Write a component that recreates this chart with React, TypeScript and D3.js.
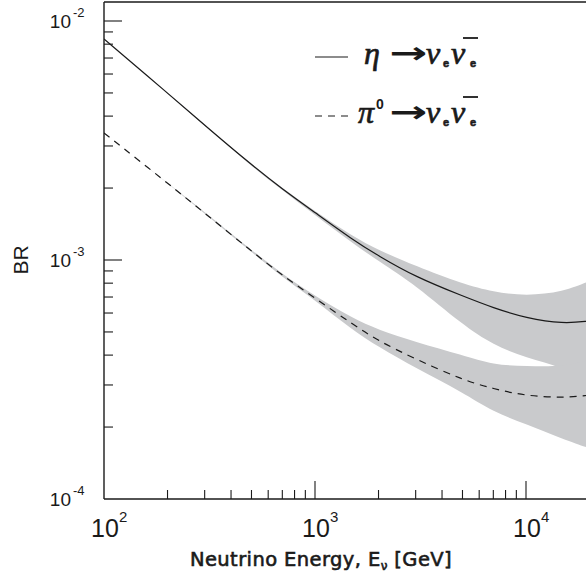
import React, { useEffect, useRef } from 'react';
import * as d3 from 'd3';

// ---------------- data ----------------
const energies = [100, 200, 300, 500, 700, 1000, 1500, 2000, 3000, 5000, 7000, 10000, 15000, 20000];

// eta -> nu_e nubar_e
const etaCentral = [8.41e-3, 5.0e-3, 3.66e-3, 2.5e-3, 1.98e-3, 1.58e-3, 1.22e-3, 1.04e-3, 8.49e-4, 7.07e-4, 6.3e-4, 5.72e-4, 5.4e-4, 5.56e-4];
const etaUpper = [8.41e-3, 5.0e-3, 3.67e-3, 2.52e-3, 2.0e-3, 1.6e-3, 1.26e-3, 1.1e-3, 9.44e-4, 7.93e-4, 7.35e-4, 7.07e-4, 7.35e-4, 8.17e-4];
const etaLower = [8.41e-3, 5.0e-3, 3.64e-3, 2.47e-3, 1.96e-3, 1.54e-3, 1.18e-3, 9.9e-4, 7.86e-4, 5.35e-4, 4.41e-4, 3.89e-4, 3.57e-4, 3.0e-4];

// pi0 -> nu_e nubar_e
const pi0Central = [3.4e-3, 2.1e-3, 1.57e-3, 1.09e-3, 8.61e-4, 6.93e-4, 5.4e-4, 4.58e-4, 3.85e-4, 3.15e-4, 2.89e-4, 2.7e-4, 2.65e-4, 2.72e-4];
const pi0Upper = [3.4e-3, 2.1e-3, 1.59e-3, 1.1e-3, 8.74e-4, 7.07e-4, 5.72e-4, 5.1e-4, 4.54e-4, 4.0e-4, 3.64e-4, 3.6e-4, 3.57e-4, 3.82e-4];
const pi0Lower = [3.4e-3, 2.1e-3, 1.56e-3, 1.08e-3, 8.49e-4, 6.8e-4, 5.1e-4, 4.33e-4, 3.53e-4, 2.8e-4, 2.31e-4, 2.06e-4, 1.78e-4, 1.63e-4];

// tick labels
const xMajorTicks = [100, 1000, 10000];
const xTickExponents = ['2', '3', '4'];
const yMajorTicks = [1e-4, 1e-3, 1e-2];
const yTickExponents = ['-4', '-3', '-2'];

const xTitle = 'Neutrino Energy, E';
const yTitle = 'BR';

export default function App() {
  const ref = useRef<SVGSVGElement>(null);
  const width = 586;
  const height = 580;

  useEffect(() => {
    const svg = d3.select(ref.current);
    svg.selectAll('*').remove();

    const plot = { left: 104, top: 2, bottom: 499 };
    const decadeX = 211;
    const ink = '#1a1a1a';
    const bandColor = '#c9cacc';

    // ----------- scales -----------
    const x = d3.scaleLog().domain([1e2, 1e5]).range([plot.left, plot.left + 3 * decadeX]);
    const y = d3.scaleLog().domain([1e-4, 1e-2]).range([plot.bottom, 21]);

    svg.append('defs').append('clipPath').attr('id', 'plotClip')
      .append('rect')
      .attr('x', plot.left).attr('y', plot.top)
      .attr('width', width - plot.left).attr('height', plot.bottom - plot.top);

    const g = svg.append('g').attr('clip-path', 'url(#plotClip)');

    // ----------- bands -----------
    const band = (lo: number[], hi: number[]) => d3.area<number>()
      .x((d) => x(d))
      .y0((d, i) => y(lo[i]))
      .y1((d, i) => y(hi[i]))
      .curve(d3.curveBasis);

    g.append('path').datum(energies).attr('d', band(etaLower, etaUpper)).attr('fill', bandColor);
    g.append('path').datum(energies).attr('d', band(pi0Lower, pi0Upper)).attr('fill', bandColor);

    // ----------- lines -----------
    const line = (vals: number[]) => d3.line<number>()
      .x((d) => x(d))
      .y((d, i) => y(vals[i]))
      .curve(d3.curveBasis);

    g.append('path').datum(energies).attr('d', line(etaCentral))
      .attr('fill', 'none').attr('stroke', ink).attr('stroke-width', 1.2);
    g.append('path').datum(energies).attr('d', line(pi0Central))
      .attr('fill', 'none').attr('stroke', ink).attr('stroke-width', 1.2)
      .attr('stroke-dasharray', '7,6');

    // ----------- frame -----------
    const frame = svg.append('g').attr('stroke', ink).attr('stroke-width', 1.4).attr('fill', 'none');
    frame.append('line').attr('x1', plot.left).attr('x2', plot.left).attr('y1', plot.top).attr('y2', plot.bottom);
    frame.append('line').attr('x1', plot.left).attr('x2', width).attr('y1', plot.top).attr('y2', plot.top);
    frame.append('line').attr('x1', plot.left).attr('x2', width).attr('y1', plot.bottom).attr('y2', plot.bottom);

    const isMajor = (d: number) => Math.abs(Math.log10(d) - Math.round(Math.log10(d))) < 1e-9;

    // x ticks (inward)
    frame.selectAll('.xtick')
      .data(x.ticks().filter((d) => d > 100 && x(d) < width))
      .join('line')
      .attr('x1', (d) => x(d)).attr('x2', (d) => x(d))
      .attr('y1', plot.bottom).attr('y2', (d) => plot.bottom - (isMajor(d) ? 18 : 9))
      .attr('stroke-width', 1.1);

    // y ticks (inward)
    frame.selectAll('.ytick')
      .data(y.ticks().filter((d) => d > 1e-4 && y(d) > plot.top))
      .join('line')
      .attr('y1', (d) => y(d)).attr('y2', (d) => y(d))
      .attr('x1', plot.left).attr('x2', (d) => plot.left + (isMajor(d) ? 18 : 9))
      .attr('stroke-width', 1.1);

    // ----------- tick labels -----------
    const labelFont = '"Liberation Sans", Arial, Helvetica, sans-serif';
    const xl = svg.append('g').attr('font-family', labelFont).attr('fill', ink);
    xMajorTicks.forEach((d, i) => {
      xl.append('text').attr('x', x(d) + 1).attr('y', 537)
        .attr('text-anchor', 'middle').attr('font-size', 25).text('10');
      xl.append('text').attr('x', x(d) + 15).attr('y', 522)
        .attr('font-size', 15).text(xTickExponents[i]);
    });

    const yl = svg.append('g').attr('font-family', labelFont).attr('fill', ink);
    yMajorTicks.forEach((d, i) => {
      yl.append('text').attr('x', 71).attr('y', y(d) + 7)
        .attr('text-anchor', 'end').attr('font-size', 19).text('10');
      yl.append('text').attr('x', 73).attr('y', y(d) - 4)
        .attr('font-size', 13).text(yTickExponents[i]);
    });

    // ----------- axis titles -----------
    const xt = svg.append('text')
      .attr('x', 321).attr('y', 566)
      .attr('text-anchor', 'middle')
      .attr('font-family', '"DejaVu Sans", sans-serif')
      .attr('font-size', 19.5)
      .attr('letter-spacing', 0.4)
      .attr('fill', ink)
      .attr('stroke', ink).attr('stroke-width', 0.6);
    xt.append('tspan').text(xTitle);
    xt.append('tspan').attr('font-size', 12).attr('dy', 4).text('ν');
    xt.append('tspan').attr('dy', -4).text(' [GeV]');

    svg.append('text')
      .attr('transform', 'translate(28,260) rotate(-90)')
      .attr('text-anchor', 'middle')
      .attr('font-family', labelFont)
      .attr('font-size', 21)
      .attr('fill', ink)
      .text(yTitle);

    // ----------- legend -----------
    const legendRows = [
      { y: 57, dash: null as string | null, sym: 'η', sup: '' },
      { y: 116, dash: '7,6', sym: 'π', sup: '0' },
    ];
    const serif = '"Liberation Serif", "Times New Roman", serif';
    const mathText = (sel: d3.Selection<SVGGElement, unknown, null, undefined>, xPos: number, yPos: number, t: string) =>
      sel.append('text').attr('x', xPos).attr('y', yPos)
        .attr('font-family', serif).attr('font-style', 'italic').attr('font-size', 32)
        .attr('stroke', ink).attr('stroke-width', 0.7).text(t);
    const subE = (sel: d3.Selection<SVGGElement, unknown, null, undefined>, xPos: number, yPos: number) =>
      sel.append('text').attr('x', xPos).attr('y', yPos)
        .attr('font-family', labelFont).attr('font-weight', 'bold').attr('font-size', 11)
        .attr('stroke', ink).attr('stroke-width', 0.6).text('e');

    legendRows.forEach((r) => {
      const lg = svg.append('g').attr('fill', ink) as unknown as d3.Selection<SVGGElement, unknown, null, undefined>;
      lg.append('line')
        .attr('x1', 315).attr('x2', 348).attr('y1', r.y).attr('y2', r.y)
        .attr('stroke', ink).attr('stroke-width', 1.2)
        .attr('stroke-dasharray', r.dash);
      const base = r.y + 7;
      mathText(lg, r.sup ? 358 : 364, base, r.sym);
      if (r.sup) {
        lg.append('text').attr('x', 376).attr('y', base - 14)
          .attr('font-family', labelFont).attr('font-size', 14).attr('font-weight', 'bold').text(r.sup);
      }
      lg.append('text').attr('x', 389).attr('y', base - 1)
        .attr('font-family', '"DejaVu Sans", sans-serif').attr('font-weight', 'bold').attr('font-size', 30)
        .attr('textLength', 38).attr('lengthAdjust', 'spacingAndGlyphs').text('→');
      mathText(lg, 426, base, 'ν');
      subE(lg, 443, base + 3);
      mathText(lg, 451, base, 'ν');
      lg.append('line')
        .attr('x1', 463).attr('x2', 478).attr('y1', base - 26).attr('y2', base - 26)
        .attr('stroke', ink).attr('stroke-width', 1.8);
      subE(lg, 470, base + 3);
    });
  }, []);

  return (
    <svg ref={ref} width={width} height={height}
      style={{ position: 'absolute', left: 0, top: 0, background: '#fff' }} />
  );
}
